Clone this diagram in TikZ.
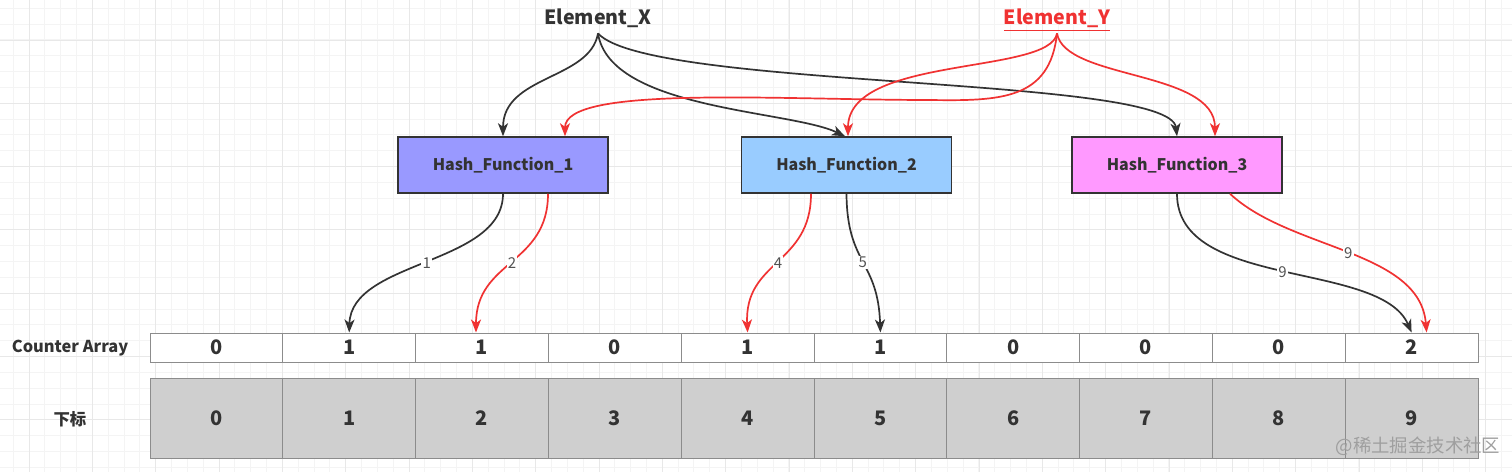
\documentclass[tikz,border=0pt]{standalone}
\usepackage{fontspec}
\setmainfont{Noto Sans CJK SC}
\usetikzlibrary{arrows.meta,calc}
\definecolor{lnk}{HTML}{333333}
\definecolor{rdx}{HTML}{F03232}
\definecolor{hfa}{HTML}{9999FF}
\definecolor{hfb}{HTML}{99CCFF}
\definecolor{hfc}{HTML}{FF99FF}
\definecolor{idx}{HTML}{CFCFCF}
\definecolor{grmin}{HTML}{F4F4F4}
\definecolor{grmaj}{HTML}{E8E8E8}
\tikzset{
    elem/.style={font=\fontsize{9.8}{12}\selectfont\bfseries,text height=8pt,text depth=2pt,inner sep=2.5pt,anchor=base},
    hashbox/.style={draw=lnk,line width=0.75pt,minimum width=105pt,minimum height=28pt,inner sep=0pt,text=lnk,font=\fontsize{8}{10}\selectfont\bfseries},
    cnt/.style={draw=gray!90,line width=0.5pt,fill=white,minimum width=66.4pt,minimum height=14.5pt,inner sep=0pt,text=lnk,font=\fontsize{10}{12}\selectfont\bfseries},
    sub/.style={cnt,fill=idx,minimum height=40pt},
    rowlab/.style={text=lnk,font=\fontsize{8.2}{10}\selectfont\bfseries},
    blk/.style={lnk,line width=0.85pt,-{Stealth[length=6.5pt,width=5pt,inset=1.8pt]}},
    rdarr/.style={rdx,line width=0.85pt,-{Stealth[length=6.5pt,width=5pt,inset=1.8pt]}},
    elab/.style={fill=white,inner sep=0.6pt,text=lnk!85,font=\fontsize{7.5}{8}\selectfont}
}
\begin{document}
\begin{tikzpicture}[x=0.5pt,y=-0.5pt]
    \useasboundingbox (0,0) rectangle (1512,472);
    \fill [white] (0,0) rectangle (1512,472);
    \foreach \k in {0,...,94} {
        \draw [grmin,line width=0.5pt] ({13.3+15.83*\k},0) -- ++(0,472);
    }
    \foreach \k in {0,...,29} {
        \draw [grmin,line width=0.5pt] (0,{8.3+15.83*\k}) -- ++(1512,0);
    }
    \foreach \k in {0,...,23} {
        \draw [grmaj,line width=0.5pt] ({29.2+63.33*\k},0) -- ++(0,472);
    }
    \foreach \k in {0,...,6} {
        \draw [grmaj,line width=0.5pt] (0,{40+63.33*\k}) -- ++(1512,0);
    }

    \node [elem,text=lnk] (EX) at (598,24) {Element\_X};
    \node [elem,text=rdx] (EY) at (1057,24) {\underline{Element\_Y}};

    \node [hashbox,fill=hfa] (HF1) at (503,165) {Hash\_Function\_1};
    \node [hashbox,fill=hfb] (HF2) at (846.5,165) {Hash\_Function\_2};
    \node [hashbox,fill=hfc] (HF3) at (1177,165) {Hash\_Function\_3};

    \node [rowlab] (ca) at (70,348) {Counter Array};
    \node [rowlab] (xb) at (70,419) {下标};
    \foreach \v [count=\i from 0] in {0,1,1,0,1,1,0,0,0,2} {
        \node [cnt] (c\i) at ({216.4+132.8*\i},347.5) {\v};
        \node [sub] (s\i) at ({216.4+132.8*\i},418) {\i};
    }

    \draw [blk] (EX.south) .. controls (590,80) and (503,75) .. (HF1.north);
    \draw [blk] (EX.south) .. controls (610,110) and (790,110) .. ($(HF2.north)+(-1.5,0)$);
    \draw [blk] (EX.south) .. controls (650,90) and (1170,75) .. (HF3.north);
    \draw [rdarr] (EY.south) .. controls (1050,100) and (1000,101) .. (930,100)
        .. controls (780,100) and (565,85) .. ($(HF1.north)+(62,0)$);
    \draw [rdarr] (EY.south) .. controls (1050,75) and (848,55) .. ($(HF2.north)+(1.5,0)$);
    \draw [rdarr] (EY.south) .. controls (1065,80) and (1215,70) .. ($(HF3.north)+(38,0)$);

    \draw [blk] (HF1.south) .. controls (503,265) and (351,260) .. node [elab] {1} (c1.north);
    \draw [rdarr] ($(HF1.south)+(45,0)$) .. controls (548,265) and (476,260) .. node [elab] {2} ($(c2.north)+(-6,0)$);
    \draw [rdarr] ($(HF2.south)+(-35.5,0)$) .. controls (811,265) and (744,260) .. node [elab] {4} (c4.north);
    \draw [blk] (HF2.south) .. controls (847,265) and (878,260) .. node [elab] {5} (c5.north);
    \draw [blk] (HF3.south) .. controls (1177,290) and (1380,260) .. node [elab] {9} (c9.north);
    \draw [rdarr] ($(HF3.south)+(53,0)$) .. controls (1290,250) and (1420,250) .. node [elab] {9} ($(c9.north)+(15,0)$);

    \node [text=gray!75,font=\fontsize{9.2}{10}\selectfont] (wm) at (1418,446) {@稀土掘金技术社区};
\end{tikzpicture}
\end{document}
